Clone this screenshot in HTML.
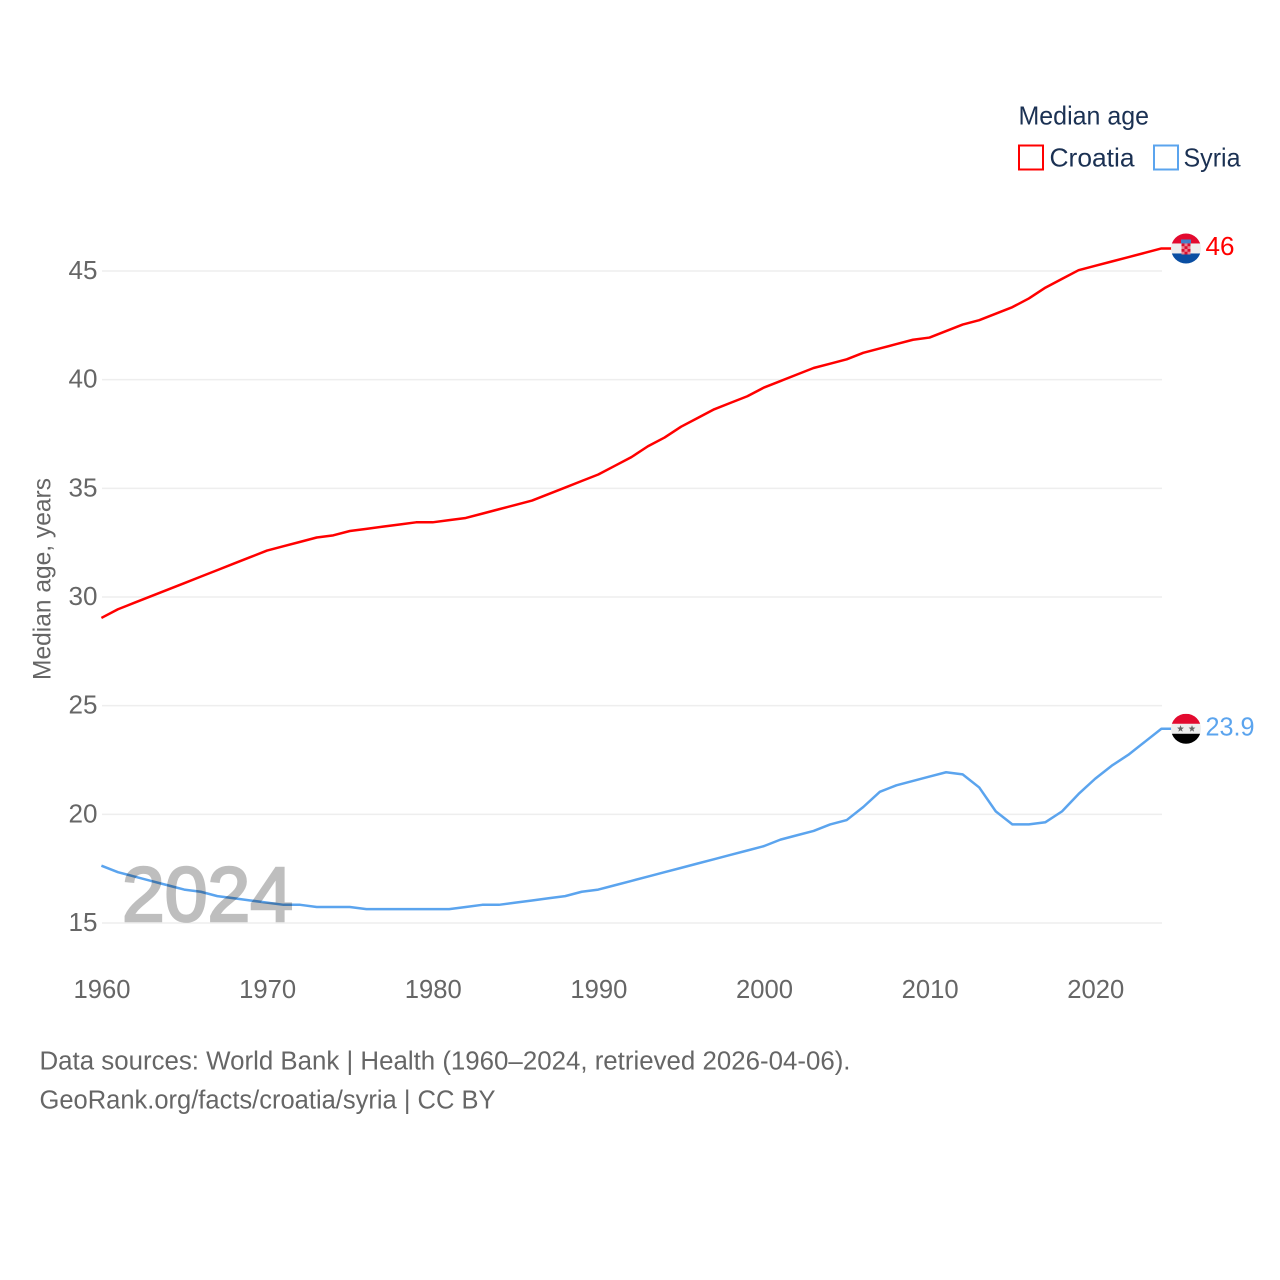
<!DOCTYPE html>
<html lang="en">
<head>
<meta charset="utf-8">
<title>Median age: Croatia and Syria</title>
<style>
html,body{margin:0;padding:0;background:#fff;}
svg{display:block;font-family:"Liberation Sans",sans-serif;}
</style>
</head>
<body>
<svg id="chart" xmlns="http://www.w3.org/2000/svg" width="1280" height="1280" viewBox="0 0 1280 1280">
  <defs>
    <clipPath id="flag-clip-hr"><circle id="clip-hr" cx="1186" cy="249" r="15"></circle></clipPath>
    <clipPath id="flag-clip-sy"><circle id="clip-sy" cx="1186" cy="729" r="15"></circle></clipPath>
  </defs>
  <rect width="1280" height="1280" fill="#fff"></rect>
  <g id="grid"></g>
  <g id="y-ticks"></g>
  <g id="x-ticks"></g>
  <text transform="translate(50.500,680) rotate(-90)" font-size="25" fill="#666" textLength="202" lengthAdjust="spacingAndGlyphs">Median age, years</text>
  <g id="series"></g>
  <g id="flags"></g>
  <g opacity="0.25">
    <text x="122" y="921" font-size="77" fill="#000" stroke="#000" stroke-width="2.600" textLength="171" lengthAdjust="spacingAndGlyphs">2024</text>
  </g>
  <g>
    <text x="1018.500" y="124.500" font-size="26" fill="#1b3153" textLength="130.500" lengthAdjust="spacingAndGlyphs">Median age</text>
    <g>
      <rect x="1019" y="145.500" width="24" height="24" fill="#fff" stroke="#ff0000" stroke-width="2"></rect>
      <text x="1049.500" y="166.500" font-size="26" fill="#1b3153" textLength="85" lengthAdjust="spacingAndGlyphs">Croatia</text>
    </g>
    <g>
      <rect x="1154" y="145.500" width="24" height="24" fill="#fff" stroke="#5ba4ee" stroke-width="2"></rect>
      <text x="1183.500" y="166.500" font-size="26" fill="#1b3153" textLength="57" lengthAdjust="spacingAndGlyphs">Syria</text>
    </g>
  </g>
  <g>
    <text x="39.500" y="1069.500" font-size="25.500" fill="#666" textLength="811" lengthAdjust="spacingAndGlyphs">Data sources: World Bank | Health (1960–2024, retrieved 2026-04-06).</text>
    <text x="39.500" y="1108.500" font-size="25.500" fill="#666" textLength="456" lengthAdjust="spacingAndGlyphs">GeoRank.org/facts/croatia/syria | CC BY</text>
  </g>
</svg>
<script>
const years = [1960,1961,1962,1963,1964,1965,1966,1967,1968,1969,1970,1971,1972,1973,1974,1975,1976,1977,1978,1979,1980,1981,1982,1983,1984,1985,1986,1987,1988,1989,1990,1991,1992,1993,1994,1995,1996,1997,1998,1999,2000,2001,2002,2003,2004,2005,2006,2007,2008,2009,2010,2011,2012,2013,2014,2015,2016,2017,2018,2019,2020,2021,2022,2023,2024];
const croatiaValues = [29.0,29.4,29.7,30.0,30.3,30.6,30.9,31.2,31.5,31.8,32.1,32.3,32.5,32.7,32.8,33.0,33.1,33.2,33.3,33.4,33.4,33.5,33.6,33.8,34.0,34.2,34.4,34.7,35.0,35.3,35.6,36.0,36.4,36.9,37.3,37.8,38.2,38.6,38.9,39.2,39.6,39.9,40.2,40.5,40.7,40.9,41.2,41.4,41.6,41.8,41.9,42.2,42.5,42.7,43.0,43.3,43.7,44.2,44.6,45.0,45.2,45.4,45.6,45.8,46.0];
const syriaValues = [17.6,17.3,17.1,16.9,16.7,16.5,16.4,16.2,16.1,16.0,15.9,15.8,15.8,15.7,15.7,15.7,15.6,15.6,15.6,15.6,15.6,15.6,15.7,15.8,15.8,15.9,16.0,16.1,16.2,16.4,16.5,16.7,16.9,17.1,17.3,17.5,17.7,17.9,18.1,18.3,18.5,18.8,19.0,19.2,19.5,19.7,20.3,21.0,21.3,21.5,21.7,21.9,21.8,21.2,20.1,19.5,19.5,19.6,20.1,20.9,21.6,22.2,22.7,23.3,23.9];
const yTickLabels = [15,20,25,30,35,40,45];
const xTickLabels = [1960,1970,1980,1990,2000,2010,2020];
const croatiaEndLabel = "46";
const syriaEndLabel = "23.9";

const NS = "http://www.w3.org/2000/svg";
function xScale(year) { return 102 + (year - 1960) * (1162 - 102) / (2024 - 1960); }
function yScale(v) { return 923 - (v - 15) * (923 - 271) / (45 - 15); }
function lineX(year) { return xScale(year) - 0.6; }
function lineY(v) { return yScale(v) - 0.8; }
function make(tag, attrs, parent) {
  const el = document.createElementNS(NS, tag);
  for (const k in attrs) el.setAttribute(k, attrs[k]);
  parent.appendChild(el);
  return el;
}
const gridG = document.getElementById("grid");
const yG = document.getElementById("y-ticks");
const xG = document.getElementById("x-ticks");
const seriesG = document.getElementById("series");
const flagsG = document.getElementById("flags");

yTickLabels.forEach(function (t) {
  const line = make("line", {x1: 102, x2: 1162, y1: yScale(t), y2: yScale(t), stroke: "#eeeeee", "stroke-width": 1.5}, gridG);
  
  
  const label = make("text", {x: 68.500, y: yScale(t) + 8, "font-size": 25.500, fill: "#666", textLength: 29, lengthAdjust: "spacingAndGlyphs"}, yG);
  
  
  label.textContent = t;
});
xTickLabels.forEach(function (t) {
  const label = make("text", {x: xScale(t) - 28.500, y: 998, "font-size": 25.500, fill: "#666", textLength: 57, lengthAdjust: "spacingAndGlyphs"}, xG);
  
  
  label.textContent = t;
});

function drawSeries(values, color) {
  const pts = values.map(function (v, i) { return lineX(years[i]).toFixed(2) + "," + lineY(v).toFixed(2); });
  const last = values[values.length - 1];
  pts.push("1172," + lineY(last).toFixed(2));
  return make("polyline", {points: pts.join(" "), fill: "none", stroke: color, "stroke-width": 2.500, "stroke-linejoin": "round"}, seriesG);
}
const croatiaLine = drawSeries(croatiaValues, "#ff0000");


const syriaLine = drawSeries(syriaValues, "#5ba4ee");



function drawBands(group, cy, colors) {
  const h = 10;
  colors.forEach(function (c, i) {
    make("rect", {x: 1171, y: cy - 15 + i * h, width: 30, height: h + 0.2, fill: c}, group);
  });
}

const hrCy = lineY(croatiaValues[croatiaValues.length - 1]);
document.getElementById("clip-hr").setAttribute("cy", hrCy);
const hrFlag = make("g", {"clip-path": "url(#flag-clip-hr)"}, flagsG);


drawBands(hrFlag, hrCy, ["#e30a2f", "#eeeeee", "#0a4ea2"]);
make("rect", {x: 1181, y: hrCy - 9, width: 10, height: 4, fill: "#3f7fc9"}, hrFlag);
make("rect", {x: 1181.500, y: hrCy - 5, width: 9, height: 11, fill: "#e8808f"}, hrFlag);
for (let r = 0; r < 4; r++) {
  for (let c = 0; c < 3; c++) {
    if ((r + c) % 2 === 0) make("rect", {x: 1181.500 + c * 3, y: hrCy - 5 + r * 2.750, width: 3, height: 2.750, fill: "#d8102f"}, hrFlag);
  }
}

const syCy = lineY(syriaValues[syriaValues.length - 1]);
document.getElementById("clip-sy").setAttribute("cy", syCy);
const syFlag = make("g", {"clip-path": "url(#flag-clip-sy)"}, flagsG);


drawBands(syFlag, syCy, ["#e30a2f", "#eeeeee", "#000000"]);
[1180.500, 1192].forEach(function (sx) {
  make("polygon", {points: [0,1,2,3,4,5,6,7,8,9].map(function (k) {
    const rad = k % 2 === 0 ? 3.6 : 1.5;
    const a = -Math.PI / 2 + k * Math.PI / 5;
    return (sx + rad * Math.cos(a)).toFixed(2) + "," + (syCy + rad * Math.sin(a)).toFixed(2);
  }).join(" "), fill: "#666"}, syFlag);
});

const hrLabel = make("text", {x: 1205.500, y: hrCy + 6.500, "font-size": 25.500, fill: "#ff0000", textLength: 29, lengthAdjust: "spacingAndGlyphs"}, flagsG);


hrLabel.textContent = croatiaEndLabel;
const syLabel = make("text", {x: 1205.500, y: syCy + 6.500, "font-size": 25.500, fill: "#5ba4ee", textLength: 49, lengthAdjust: "spacingAndGlyphs"}, flagsG);


syLabel.textContent = syriaEndLabel;
</script>
</body>
</html>
